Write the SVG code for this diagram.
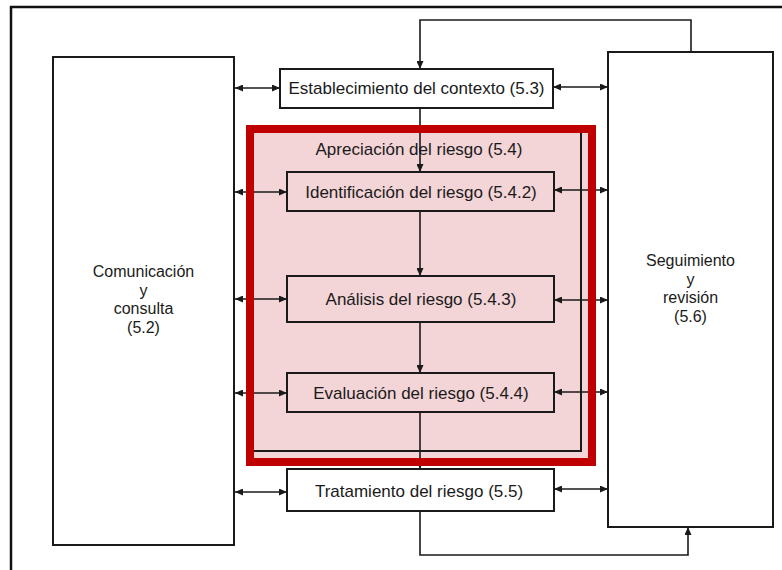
<svg xmlns="http://www.w3.org/2000/svg" width="782" height="570" viewBox="0 0 782 570">
  <defs>
    <marker id="ah" viewBox="0 0 8 7" markerUnits="userSpaceOnUse" markerWidth="8" markerHeight="7" refX="8" refY="3.5" orient="auto-start-reverse">
      <path d="M0,0 L8,3.5 L0,7 z" fill="#1a1a1a"/>
    </marker>
  </defs>
  <style>
    .box { fill: #fff; stroke: #1a1a1a; stroke-width: 2; }
    .inbox { fill: none; stroke: #1a1a1a; stroke-width: 2; }
    .t { font-family: "Liberation Sans", Arial, sans-serif; font-size: 17px; fill: #1a1a1a; text-anchor: middle; }
    .s { font-size: 16px; }
    .c { fill: none; stroke: #1a1a1a; stroke-width: 1.6; }
    .dbl { marker-start: url(#ah); marker-end: url(#ah); }
    .one { marker-end: url(#ah); }
  </style>
  <rect x="0" y="0" width="782" height="570" fill="#fff"/>
  <path id="frame" d="M11,570 V7 H782" fill="none" stroke="#111" stroke-width="2.5"/>

  <g id="comunicacion">
    <rect class="box" x="53" y="57" width="181" height="488"/>
    <text class="t s" x="143.5" y="277">Comunicación</text>
    <text class="t s" x="143.5" y="295.6">y</text>
    <text class="t s" x="143.5" y="314.2">consulta</text>
    <text class="t s" x="143.5" y="332.8">(5.2)</text>
  </g>

  <g id="seguimiento">
    <rect class="box" x="608" y="52" width="165" height="475"/>
    <text class="t s" x="690.5" y="266">Seguimiento</text>
    <text class="t s" x="690.5" y="284.6">y</text>
    <text class="t s" x="690.5" y="303.2">revisión</text>
    <text class="t s" x="690.5" y="321.8">(5.6)</text>
  </g>

  <g id="establecimiento">
    <rect class="box" x="280" y="69" width="273" height="39"/>
    <text class="t" x="416.5" y="94">Establecimiento del contexto (5.3)</text>
  </g>

  <g id="apreciacion">
    <rect x="250" y="129" width="342" height="333" fill="#f3d4d7"/>
    <rect class="inbox" x="250" y="129" width="331" height="322"/>
    <text class="t" x="419" y="155">Apreciación del riesgo (5.4)</text>
  </g>

  <g id="identificacion">
    <rect class="inbox" x="287" y="172" width="267" height="39"/>
    <text class="t" x="421" y="197.5">Identificación del riesgo (5.4.2)</text>
  </g>

  <g id="analisis">
    <rect class="inbox" x="287" y="276" width="267" height="46"/>
    <text class="t" x="421" y="305">Análisis del riesgo (5.4.3)</text>
  </g>

  <g id="evaluacion">
    <rect class="inbox" x="287" y="373" width="267" height="39"/>
    <text class="t" x="421" y="398.5">Evaluación del riesgo (5.4.4)</text>
  </g>

  <g id="tratamiento">
    <rect class="box" x="287" y="469" width="267" height="42"/>
    <text class="t" x="419" y="496.5">Tratamiento del riesgo (5.5)</text>
  </g>

  <g id="connectors">
    <path class="c one" d="M691,52 V20 H420 V69"/>
    <path class="c one" d="M420,108 V172"/>
    <path class="c one" d="M420,211 V276"/>
    <path class="c one" d="M420,322 V373"/>
    <path class="c one" d="M420,412 V469"/>
    <path class="c one" d="M420,511 V555 H688 V527"/>
    <line class="c dbl" x1="235" y1="88" x2="280" y2="88"/>
    <line class="c dbl" x1="553" y1="87" x2="608" y2="87"/>
    <line class="c dbl" x1="235" y1="192" x2="287" y2="192"/>
    <line class="c dbl" x1="554" y1="190" x2="608" y2="190"/>
    <line class="c dbl" x1="235" y1="299" x2="287" y2="299"/>
    <line class="c dbl" x1="554" y1="300" x2="608" y2="300"/>
    <line class="c dbl" x1="235" y1="393" x2="287" y2="393"/>
    <line class="c dbl" x1="554" y1="392" x2="608" y2="392"/>
    <line class="c dbl" x1="235" y1="492" x2="287" y2="492"/>
    <line class="c dbl" x1="554" y1="489" x2="608" y2="489"/>
  </g>

  <g id="apreciacion-border">
    <rect x="250" y="129" width="342" height="333" fill="none" stroke="#c00000" stroke-width="8"/>
  </g>
</svg>
